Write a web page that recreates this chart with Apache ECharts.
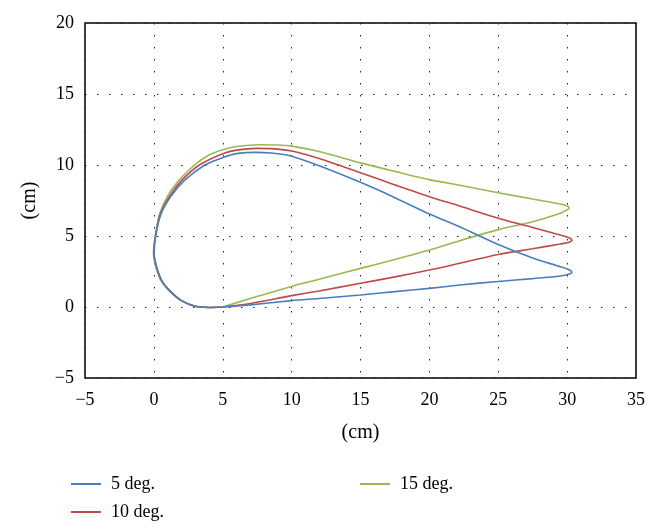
<!DOCTYPE html>
<html>
<head>
<meta charset="utf-8">
<script src="https://cdn.jsdelivr.net/npm/echarts@6/dist/echarts.min.js"></script>
<style>html,body{margin:0;padding:0;background:#fff;}#c{width:660px;height:531px;}</style>
</head>
<body>
<div id="c"></div>
<script>
var seriesNames = ['5 deg.', '10 deg.', '15 deg.'];
var xTicks = [-5, 0, 5, 10, 15, 20, 25, 30, 35];
var yTicks = [-5, 0, 5, 10, 15, 20];

var deg5 = [[5,0],[4,-0.03],[3,0.05],[2,0.45],[1.2,1.1],[0.6,1.8],[0.2,2.8],[0.02,3.8],[0.13,5],[0.5,6.5],[1.22,7.77],[2.2,8.9],[3.7,10],[5,10.52],[6,10.8],[7.4,10.89],[8.5,10.84],[10,10.62],[12,9.95],[15,8.78],[17.5,7.7],[20,6.55],[22.2,5.65],[25,4.4],[27.5,3.45],[29.5,2.84],[30.15,2.62],[30.35,2.45],[30.1,2.3],[29.5,2.18],[27.5,2.0],[25,1.8],[22.2,1.55],[20,1.31],[17.5,1.08],[15,0.85],[12,0.6],[10,0.45],[7,0.15],[5,0]];
var deg10 = [[5,0],[4,-0.03],[3,0.05],[2,0.45],[1.2,1.1],[0.6,1.8],[0.2,2.8],[0.0,3.8],[0.12,5],[0.45,6.5],[1.12,7.77],[2.0,8.9],[3.3,10],[5,10.8],[6,11.05],[7.5,11.17],[8.5,11.15],[10,10.98],[12,10.45],[15,9.45],[17.5,8.6],[20,7.77],[22.2,7.11],[25,6.25],[27.5,5.6],[29.5,5.07],[30.15,4.87],[30.35,4.7],[30.1,4.55],[29.5,4.44],[27.5,4.1],[25,3.7],[22.2,3.08],[20,2.6],[17.5,2.12],[15,1.67],[12,1.13],[10,0.8],[7,0.25],[5,0]];
var deg15 = [[5,0],[4,-0.03],[3,0.05],[2,0.45],[1.2,1.05],[0.55,1.8],[0.15,2.8],[-0.03,3.8],[0.1,5],[0.4,6.5],[0.97,7.77],[1.8,8.9],[2.95,10],[4,10.7],[5,11.08],[6,11.3],[7.7,11.43],[9,11.41],[10,11.33],[12,10.95],[15,10.15],[17.5,9.55],[20,8.97],[22.2,8.57],[25,8.05],[27.5,7.6],[29.5,7.25],[30.05,7.1],[30.15,6.95],[29.9,6.8],[29.5,6.6],[27.5,6.0],[25,5.45],[22.2,4.67],[20,4.01],[17.5,3.35],[15,2.72],[12,1.95],[10,1.45],[7,0.6],[5,0]];

var colors = ['#4a7ebb', '#be4b48', '#98b954'];
var font = '"Liberation Serif", "DejaVu Serif", serif';
function fmt(v){ return String(v).replace('-', '\u2212'); }

var chart = echarts.init(document.getElementById('c'), null, {renderer: 'canvas'});
var lineSeries = [deg5, deg10, deg15].map(function(d, i){
  return {
    name: seriesNames[i], type: 'line', data: d, showSymbol: false, smooth: 0.25,
    lineStyle: {color: colors[i], width: 1.6}, itemStyle: {color: colors[i]}, z: 5 - i
  };
});
var legendText = {fontFamily: font, fontSize: 18, color: '#000', lineHeight: 20, padding: [0,0,0,5]};
chart.setOption({
  animation: false,
  backgroundColor: '#fff',
  grid: {left: 85, right: 24, top: 23, bottom: 153, show: true, borderColor: '#000', borderWidth: 1.5, backgroundColor: 'transparent'},
  xAxis: {
    type: 'value', min: xTicks[0], max: xTicks[xTicks.length - 1], interval: 5,
    name: '(cm)', nameLocation: 'middle', nameGap: 45,
    nameTextStyle: {fontFamily: font, fontSize: 20, color: '#000'},
    axisLine: {show: false}, axisTick: {show: false},
    axisLabel: {fontFamily: font, fontSize: 18, color: '#000', margin: 13, formatter: fmt},
    splitLine: {show: true, lineStyle: {color: '#222', type: [1.5, 10.5], width: 1}}
  },
  yAxis: {
    type: 'value', min: yTicks[0], max: yTicks[yTicks.length - 1], interval: 5,
    name: '(cm)', nameLocation: 'middle', nameGap: 45,
    nameTextStyle: {fontFamily: font, fontSize: 20, color: '#000'},
    axisLine: {show: false}, axisTick: {show: false},
    axisLabel: {fontFamily: font, fontSize: 18, color: '#000', margin: 11, formatter: fmt},
    splitLine: {show: true, lineStyle: {color: '#222', type: [1.5, 10.5], width: 1}}
  },
  legend: [
    {data: [seriesNames[0], seriesNames[1]], orient: 'vertical', left: 66, top: 469, itemGap: 8,
     icon: 'rect', itemWidth: 30, itemHeight: 2, textStyle: legendText},
    {data: [seriesNames[2]], orient: 'vertical', left: 355, top: 469,
     icon: 'rect', itemWidth: 30, itemHeight: 2, textStyle: legendText}
  ],
  series: lineSeries
});
</script>
</body>
</html>
